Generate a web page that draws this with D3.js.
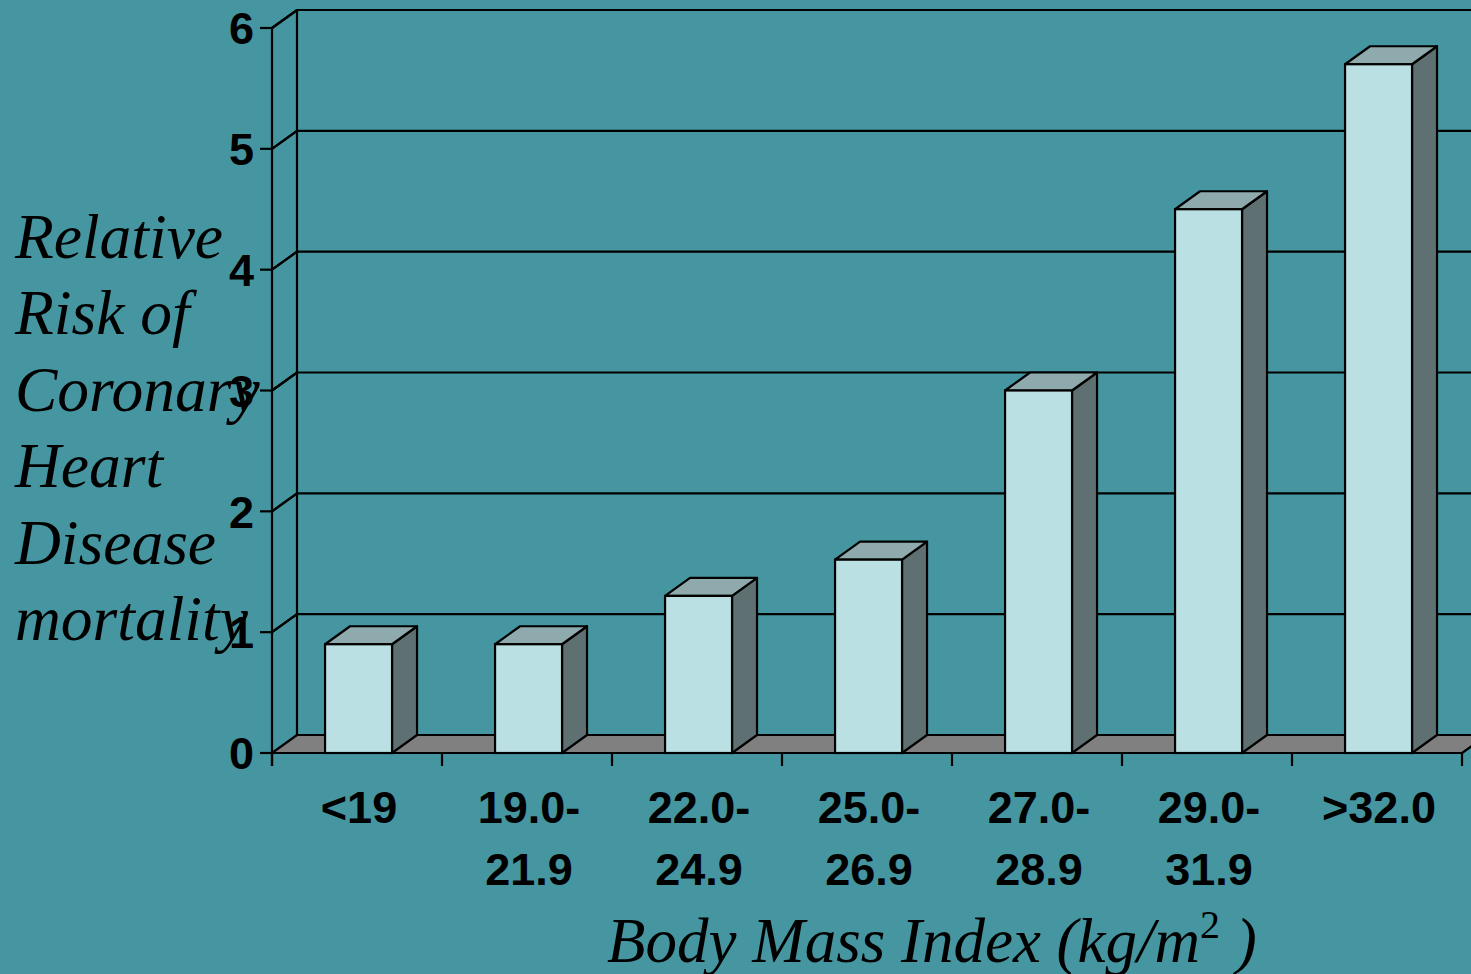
<!DOCTYPE html>
<html>
<head>
<meta charset="utf-8">
<script src="https://cdn.jsdelivr.net/npm/d3@7"></script>
<style>
  html, body { margin: 0; padding: 0; background: #4596A0; overflow: hidden; }
  svg { display: block; }
</style>
</head>
<body>
<svg id="chart" width="1471" height="974"></svg>
<script>
// Relative risk of coronary heart disease mortality by BMI band
const categories = ["<19", "19.0-\n21.9", "22.0-\n24.9", "25.0-\n26.9", "27.0-\n28.9", "29.0-\n31.9", ">32.0"];
const relativeRisk = [0.9, 0.9, 1.3, 1.6, 3.0, 4.5, 5.7];
const yTicks = [0, 1, 2, 3, 4, 5, 6];
const yTitleLines = ["Relative", "Risk of", "Coronary", "Heart", "Disease", "mortality"];

const W = 1471, H = 974;
const svg = d3.select("#chart");

const colors = {
  bg: "#4596A0",
  front: "#BBE0E3",
  top: "#8FAAAD",
  side: "#5E7071",
  floor: "#808080",
  line: "#000"
};

// depth offset of the 3-D projection
const dx = 25, dy = -18;

const x0 = 272, x1 = 1462;
const y = d3.scaleLinear().domain([0, 6]).range([753, 28]);
const slot = d3.scaleBand().domain(d3.range(categories.length)).range([x0, x1]).padding(0);
const bar = d3.scaleBand().domain(d3.range(categories.length)).range([x0, x1])
  .paddingInner(0.606).paddingOuter(0.303).align(0.515);

svg.append("rect").attr("width", W).attr("height", H).attr("fill", colors.bg);

const g = svg.append("g");
const sw = 2.2;

// side wall (left) and back wall gridlines
g.append("line")
  .attr("x1", x0 + dx).attr("x2", x0 + dx)
  .attr("y1", y(6) + dy).attr("y2", y(0) + dy)
  .attr("stroke", colors.line).attr("stroke-width", sw);

yTicks.forEach(t => {
  if (t === 0) return;
  g.append("path")
    .attr("d", `M${x0},${y(t)} L${x0 + dx},${y(t) + dy} L${x1 + dx},${y(t) + dy}`)
    .attr("fill", "none").attr("stroke", colors.line).attr("stroke-width", sw);
});

// floor
g.append("path")
  .attr("d", `M${x0},${y(0)} L${x1},${y(0)} L${x1 + dx},${y(0) + dy} L${x0 + dx},${y(0) + dy} Z`)
  .attr("fill", colors.floor).attr("stroke", colors.line).attr("stroke-width", sw)
  .attr("stroke-linejoin", "round");

// bars
const bars = g.selectAll("g.bar").data(relativeRisk).join("g").attr("class", "bar");
bars.each(function (v, i) {
  const el = d3.select(this);
  const bx = bar(i), bw = bar.bandwidth();
  const yt = y(v), yb = y(0);
  el.append("path")
    .attr("d", `M${bx + bw},${yt} L${bx + bw + dx},${yt + dy} L${bx + bw + dx},${yb + dy} L${bx + bw},${yb} Z`)
    .attr("fill", colors.side).attr("stroke", colors.line).attr("stroke-width", sw).attr("stroke-linejoin", "round");
  el.append("path")
    .attr("d", `M${bx},${yt} L${bx + dx},${yt + dy} L${bx + bw + dx},${yt + dy} L${bx + bw},${yt} Z`)
    .attr("fill", colors.top).attr("stroke", colors.line).attr("stroke-width", sw).attr("stroke-linejoin", "round");
  el.append("rect")
    .attr("x", bx).attr("y", yt).attr("width", bw).attr("height", yb - yt)
    .attr("fill", colors.front).attr("stroke", colors.line).attr("stroke-width", sw);
});

// front y axis
g.append("line")
  .attr("x1", x0).attr("x2", x0).attr("y1", y(6)).attr("y2", y(0) + 13)
  .attr("stroke", colors.line).attr("stroke-width", sw);
g.append("line")
  .attr("x1", x0).attr("x2", x1).attr("y1", y(0)).attr("y2", y(0))
  .attr("stroke", colors.line).attr("stroke-width", sw);

yTicks.forEach(t => {
  g.append("line")
    .attr("x1", x0 - 12).attr("x2", x0).attr("y1", y(t)).attr("y2", y(t))
    .attr("stroke", colors.line).attr("stroke-width", sw);
  if (t > 0) {
    g.append("line")
      .attr("x1", x0).attr("x2", x0 + dx).attr("y1", y(t)).attr("y2", y(t) + dy)
      .attr("stroke", colors.line).attr("stroke-width", sw);
  }
});

// x ticks at category boundaries
const bounds = d3.range(categories.length + 1).map(i => i < categories.length ? slot(i) : x1);
bounds.forEach(bx => {
  g.append("line")
    .attr("x1", bx).attr("x2", bx).attr("y1", y(0)).attr("y2", y(0) + 13)
    .attr("stroke", colors.line).attr("stroke-width", sw);
});

// y tick labels
const tickFont = "'Liberation Sans', Arial, sans-serif";
g.selectAll("text.ytick").data(yTicks).join("text").attr("class", "ytick")
  .attr("x", 254).attr("y", d => y(d)).attr("dy", "0.36em")
  .attr("text-anchor", "end")
  .attr("font-family", tickFont).attr("font-weight", "bold").attr("font-size", 45)
  .attr("fill", "#000").text(d => d);

// category labels
categories.forEach((c, i) => {
  const cx = slot(i) + slot.bandwidth() / 2;
  const t = g.append("text")
    .attr("text-anchor", "middle")
    .attr("font-family", tickFont).attr("font-weight", "bold").attr("font-size", 45)
    .attr("fill", "#000");
  c.split("\n").forEach((line, k) => {
    t.append("tspan").attr("x", cx + 2).attr("y", 823 + k * 62).text(line);
  });
});

// y title
const serif = "'Liberation Serif', 'Times New Roman', serif";
const yt = g.append("text")
  .attr("font-family", serif).attr("font-style", "italic").attr("font-size", 63.5)
  .attr("fill", "#000");
yTitleLines.forEach((line, k) => {
  yt.append("tspan").attr("x", 15).attr("y", 258 + k * 76.4).text(line);
});

// x title
const xt = g.append("text")
  .attr("x", 607).attr("y", 962)
  .attr("font-family", serif).attr("font-style", "italic").attr("font-size", 63)
  .attr("fill", "#000");
xt.append("tspan").text("Body Mass Index (kg/m");
xt.append("tspan").attr("font-size", 40).attr("dy", -24).attr("font-style", "normal").text("2");
xt.append("tspan").attr("dy", 24).text(" )");
</script>
</body>
</html>
